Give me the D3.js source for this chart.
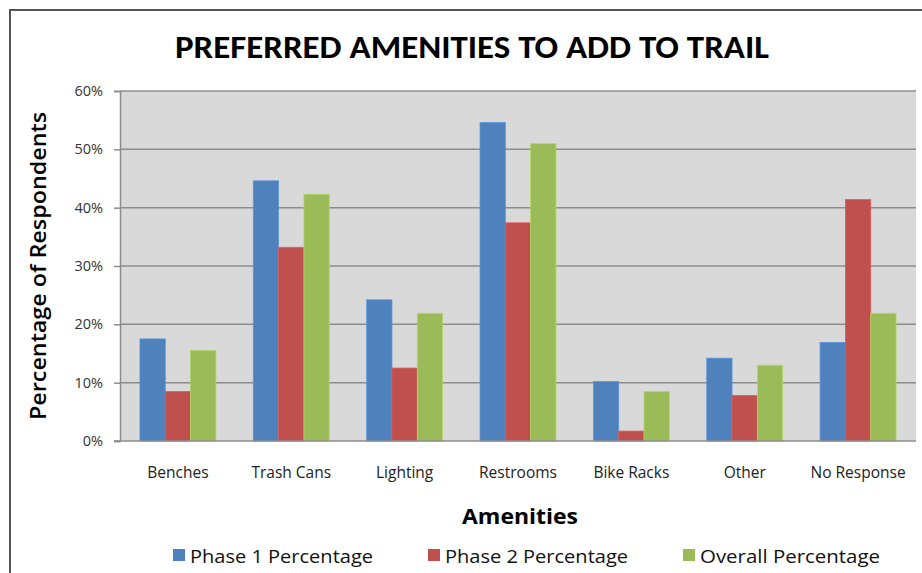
<!DOCTYPE html>
<html lang="en">
<head>
<meta charset="UTF-8">
<title>Preferred Amenities</title>
<style>
  body { margin: 0; background: #fff; }
  svg { display: block; }
</style>
</head>
<body>
<script src="https://cdn.jsdelivr.net/npm/d3@7"></script>
<script>
// chart data
var categories = ['Benches', 'Trash Cans', 'Lighting', 'Restrooms', 'Bike Racks', 'Other', 'No Response'];
var seriesNames = ['Phase 1 Percentage', 'Phase 2 Percentage', 'Overall Percentage'];
var phase1 = [17.5, 44.6, 24.2, 54.6, 10.2, 14.2, 16.9];
var phase2 = [8.5, 33.2, 12.5, 37.4, 1.7, 7.8, 41.4];
var overall = [15.5, 42.3, 21.9, 51.0, 8.5, 13.0, 21.9];
var yTicks = [0, 10, 20, 30, 40, 50, 60];
var colors = ['#4f81bd', '#c0504d', '#9bbb59'];

var series = [phase1, phase2, overall];
var fontTitle = 'Carlito, "Liberation Sans Narrow", sans-serif';
var fontText = '"Open Sans", "DejaVu Sans", sans-serif';

var W = 922, H = 573;
var plot = { left: 120, top: 91, right: 916, bottom: 441 };

var svg = d3.select('body').append('svg')
    .attr('width', W)
    .attr('height', H);

// outer frame (runs off the canvas on right/bottom)
svg.append('rect')
    .attr('x', 10).attr('y', 10)
    .attr('width', W + 20).attr('height', H + 20)
    .attr('fill', '#fff')
    .attr('stroke', '#555')
    .attr('stroke-width', 2);

var x0 = d3.scaleBand()
    .domain(categories)
    .range([plot.left, plot.right])
    .paddingInner(0.33)
    .paddingOuter(0.176);

var x1 = d3.scaleBand()
    .domain(d3.range(series.length))
    .range([0, x0.bandwidth()]);

var y = d3.scaleLinear()
    .domain([0, 60])
    .range([plot.bottom, plot.top]);

// plot background
svg.append('rect')
    .attr('x', plot.left).attr('y', plot.top)
    .attr('width', plot.right - plot.left)
    .attr('height', plot.bottom - plot.top)
    .attr('fill', '#d9d9d9');

// gridlines
svg.append('g')
    .selectAll('line')
    .data(yTicks.slice(1))
    .enter()
    .append('line')
    .attr('x1', plot.left).attr('x2', plot.right)
    .attr('y1', function(d) { return y(d); })
    .attr('y2', function(d) { return y(d); })
    .attr('stroke', '#8c8c8c')
    .attr('stroke-width', 1.5);

// y axis
var yAxis = d3.axisLeft(y)
    .tickValues(yTicks)
    .tickSize(6)
    .tickFormat(function(d) { return d + '%'; });

var gy = svg.append('g')
    .attr('transform', 'translate(' + plot.left + ',0)')
    .call(yAxis);
gy.select('.domain').attr('stroke', '#8c8c8c').attr('stroke-width', 1.5);
gy.selectAll('.tick line').attr('stroke', '#8c8c8c').attr('stroke-width', 1.5);
gy.selectAll('.tick text')
    .attr('x', -17)
    .attr('fill', '#333')
    .style('font-family', fontText)
    .style('font-size', '14.5px');

// bars
var groups = svg.append('g')
    .selectAll('g')
    .data(categories)
    .enter()
    .append('g')
    .attr('transform', function(d) { return 'translate(' + x0(d) + ',0)'; });

groups.selectAll('rect')
    .data(function(d, i) {
        return series.map(function(s, j) { return { s: j, v: s[i] }; });
    })
    .enter()
    .append('rect')
    .attr('x', function(d) { return x1(d.s); })
    .attr('y', function(d) { return y(d.v); })
    .attr('width', x1.bandwidth())
    .attr('height', function(d) { return y(0) - y(d.v); })
    .attr('fill', function(d) { return colors[d.s]; })
    .attr('stroke', function(d) { return d3.color(colors[d.s]).brighter(0.4); })
    .attr('stroke-width', 0.8);

// x axis line
svg.append('line')
    .attr('x1', plot.left - 6).attr('x2', plot.right)
    .attr('y1', y(0)).attr('y2', y(0))
    .attr('stroke', '#8c8c8c')
    .attr('stroke-width', 1.5);

// category labels
svg.append('g')
    .selectAll('text')
    .data(categories)
    .enter()
    .append('text')
    .attr('x', function(d) { return x0(d) + x0.bandwidth() / 2; })
    .attr('y', 478)
    .attr('text-anchor', 'middle')
    .attr('fill', '#222')
    .style('font-family', fontText)
    .style('font-size', '15.5px')
    .text(function(d) { return d; });

// title
svg.append('text')
    .attr('x', 472).attr('y', 58)
    .attr('text-anchor', 'middle')
    .attr('textLength', 594)
    .attr('lengthAdjust', 'spacingAndGlyphs')
    .style('font-family', fontTitle)
    .style('font-size', '33px')
    .style('font-weight', 'bold')
    .text('PREFERRED AMENITIES TO ADD TO TRAIL');

// axis titles
svg.append('text')
    .attr('transform', 'translate(46,266) rotate(-90)')
    .attr('text-anchor', 'middle')
    .attr('textLength', 308)
    .attr('lengthAdjust', 'spacingAndGlyphs')
    .style('font-family', fontText)
    .style('font-size', '22px')
    .style('font-weight', '600')
    .text('Percentage of Respondents');

svg.append('text')
    .attr('x', 520).attr('y', 524)
    .attr('text-anchor', 'middle')
    .attr('textLength', 116)
    .attr('lengthAdjust', 'spacingAndGlyphs')
    .style('font-family', fontText)
    .style('font-size', '22px')
    .style('font-weight', 'bold')
    .text('Amenities');

// legend
var legendX = [173, 428, 683];
var legendW = [183, 183, 180];
var legend = svg.append('g')
    .selectAll('g')
    .data(seriesNames)
    .enter()
    .append('g')
    .attr('transform', function(d, i) { return 'translate(' + legendX[i] + ',549)'; });

legend.append('rect')
    .attr('width', 12).attr('height', 12)
    .attr('fill', function(d, i) { return colors[i]; });

legend.append('text')
    .attr('x', 17).attr('y', 14)
    .attr('fill', '#111')
    .attr('textLength', function(d, i) { return legendW[i]; })
    .attr('lengthAdjust', 'spacingAndGlyphs')
    .style('font-family', fontText)
    .style('font-size', '19px')
    .text(function(d) { return d; });
</script>
</body>
</html>
